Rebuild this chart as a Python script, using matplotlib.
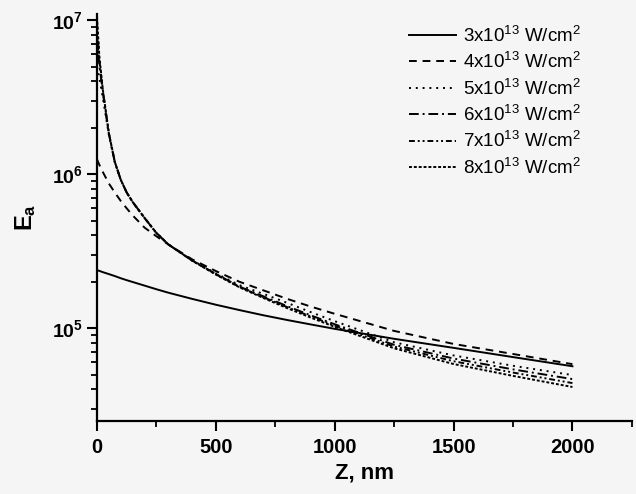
import numpy as np
import matplotlib
matplotlib.use("Agg")
import matplotlib.pyplot as plt
from matplotlib.ticker import FixedLocator, LogLocator, NullFormatter, FixedFormatter

plt.rcParams['font.family'] = ['Liberation Sans', 'DejaVu Sans']
plt.rcParams['mathtext.fontset'] = 'custom'
plt.rcParams['mathtext.rm'] = 'Liberation Sans'
plt.rcParams['mathtext.bf'] = 'Liberation Sans:bold'
plt.rcParams['mathtext.it'] = 'Liberation Sans:italic'

# distance from surface, nm
z = [0, 10, 25, 50, 75, 100, 125, 150, 200, 250, 300, 400, 500,
     600, 700, 800, 900, 1000, 1250, 1500, 1750, 2000]

# E_a for each intensity
E_3 = [2.38e5, 2.355e5, 2.31e5, 2.245e5, 2.18e5, 2.11e5, 2.05e5, 1.995e5, 1.89e5, 1.79e5, 1.70e5, 1.55e5, 1.42e5,
       1.31e5, 1.213e5, 1.13e5, 1.057e5, 0.99e5, 0.853e5, 0.745e5, 0.649e5, 0.566e5]
E_4 = [1.25e6, 1.15e6, 1.03e6, 8.7e5, 7.6e5, 6.7e5, 6.0e5, 5.4e5, 4.5e5, 3.95e5, 3.5e5, 2.8e5, 2.35e5,
       2.0e5, 1.76e5, 1.55e5, 1.38e5, 1.24e5, 0.96e5, 0.79e5, 0.68e5, 0.584e5]
E_5 = [5.0e6, 4.2e6, 3.1e6, 1.8e6, 1.19e6, 9.2e5, 7.6e5, 6.6e5, 5.2e5, 4.15e5, 3.5e5, 2.76e5, 2.27e5,
       1.9e5, 1.67e5, 1.46e5, 1.27e5, 1.11e5, 0.81e5, 0.665e5, 0.57e5, 0.496e5]
E_6 = [8.0e6, 5.1e6, 3.35e6, 1.83e6, 1.2e6, 9.2e5, 7.6e5, 6.6e5, 5.2e5, 4.15e5, 3.5e5, 2.75e5, 2.25e5,
       1.86e5, 1.61e5, 1.39e5, 1.21e5, 1.06e5, 0.78e5, 0.635e5, 0.54e5, 0.467e5]
E_7 = [9.5e6, 5.5e6, 3.45e6, 1.84e6, 1.2e6, 9.2e5, 7.6e5, 6.6e5, 5.2e5, 4.15e5, 3.5e5, 2.75e5, 2.24e5,
       1.85e5, 1.59e5, 1.37e5, 1.19e5, 1.04e5, 0.76e5, 0.61e5, 0.515e5, 0.44e5]
E_8 = [1.05e7, 5.8e6, 3.5e6, 1.85e6, 1.2e6, 9.2e5, 7.6e5, 6.6e5, 5.2e5, 4.15e5, 3.5e5, 2.75e5, 2.23e5,
       1.84e5, 1.57e5, 1.35e5, 1.17e5, 1.02e5, 0.74e5, 0.585e5, 0.49e5, 0.415e5]

labels = [r'3x10$^{13}$ W/cm$^2$', r'4x10$^{13}$ W/cm$^2$', r'5x10$^{13}$ W/cm$^2$',
          r'6x10$^{13}$ W/cm$^2$', r'7x10$^{13}$ W/cm$^2$', r'8x10$^{13}$ W/cm$^2$']
series = [E_3, E_4, E_5, E_6, E_7, E_8]
styles = ['-', (0, (4, 3)), (0, (1, 2.5)), (0, (5, 2, 1, 2)), (0, (3, 1.5, 1, 1.5, 1, 1.5)), (0, (1.5, 1))]

fig = plt.figure(figsize=(6.36, 4.94), dpi=100, facecolor='#f5f5f5')
ax = fig.add_axes([0.1525, 0.148, 0.841, 0.824])
ax.set_facecolor('#f5f5f5')

for E, lab, ls in zip(series, labels, styles):
    ax.plot(z, E, color='black', linestyle=ls, linewidth=1.4, label=lab)

ax.set_yscale('log')
ax.set_xlim(0, 2250)
ax.set_ylim(2.5e4, 1.1e7)

ax.spines['top'].set_visible(False)
ax.spines['right'].set_visible(False)
ax.spines['left'].set_linewidth(1.6)
ax.spines['bottom'].set_linewidth(1.6)

ax.xaxis.set_major_locator(FixedLocator([0, 500, 1000, 1500, 2000]))
ax.xaxis.set_minor_locator(FixedLocator([250, 750, 1250, 1750, 2250]))
ax.yaxis.set_major_locator(FixedLocator([1e5, 1e6, 1e7]))
ax.yaxis.set_major_formatter(FixedFormatter([r'$\mathbf{10^{5}}$', r'$\mathbf{10^{6}}$', r'$\mathbf{10^{7}}$']))
ax.yaxis.set_minor_locator(LogLocator(base=10, subs=np.arange(2, 10)))
ax.yaxis.set_minor_formatter(NullFormatter())

ax.tick_params(which='major', direction='out', length=7, width=1.5)
ax.tick_params(which='minor', direction='out', length=4, width=1.3)
ax.tick_params(axis='x', labelsize=14.5, pad=5)
ax.tick_params(axis='y', labelsize=14, pad=3)
for t in ax.get_xticklabels():
    t.set_fontweight('bold')

ax.set_xlabel('Z, nm', fontsize=16, fontweight='bold', labelpad=4)
ax.set_ylabel(r'$\mathbf{E_a}$', fontsize=17, labelpad=10)

ax.legend(loc='upper left', bbox_to_anchor=(0.622, 0.975), bbox_transform=fig.transFigure,
          frameon=False, fontsize=13.5, handlelength=2.5, handletextpad=0.4,
          labelspacing=0.34, borderpad=0.2)

fig.savefig('out.png', dpi=100, facecolor=fig.get_facecolor())
